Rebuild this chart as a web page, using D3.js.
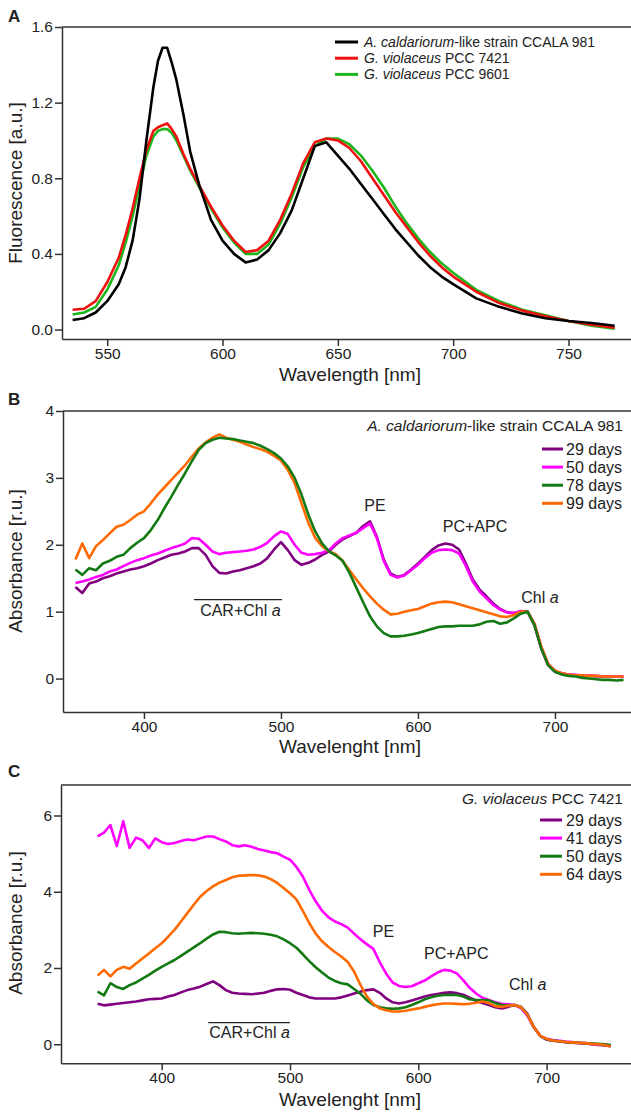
<!DOCTYPE html>
<html>
<head>
<meta charset="utf-8">
<script src="https://cdn.jsdelivr.net/npm/d3@7"></script>
<style>
  body { margin: 0; background: #fff; }
  text { font-family: "Liberation Sans", Arial, sans-serif; fill: #222; }
</style>
</head>
<body>
<div id="chart"></div>
<script>
// ---- panel A : fluorescence ----
var wlA = [535, 540, 545, 550, 555, 558, 561, 564, 567, 570, 572, 574, 576, 578, 580, 583, 586, 590, 595, 600,
  605, 610, 615, 620, 625, 630, 635, 640, 645, 650, 655, 660, 665, 670, 675, 680, 685, 690, 695, 700,
  710, 720, 730, 740, 750, 760, 770];
var fluCCALA = [0.05, 0.06, 0.09, 0.15, 0.24, 0.33, 0.47, 0.69, 1.00, 1.28, 1.42, 1.49, 1.49, 1.41, 1.32, 1.14, 0.94, 0.76, 0.58, 0.47,
  0.40, 0.355, 0.37, 0.42, 0.51, 0.63, 0.80, 0.97, 0.99, 0.92, 0.85, 0.77, 0.69, 0.61, 0.53, 0.46, 0.39, 0.33, 0.28, 0.24,
  0.165, 0.12, 0.085, 0.06, 0.045, 0.035, 0.02];
var flu7421 = [0.105, 0.11, 0.15, 0.25, 0.38, 0.50, 0.64, 0.80, 0.95, 1.05, 1.07, 1.08, 1.09, 1.06, 1.02, 0.93, 0.85, 0.76, 0.65, 0.55,
  0.47, 0.41, 0.42, 0.47, 0.58, 0.72, 0.88, 0.99, 1.01, 1.00, 0.96, 0.89, 0.80, 0.71, 0.62, 0.54, 0.46, 0.39, 0.33, 0.28,
  0.20, 0.14, 0.10, 0.07, 0.045, 0.025, 0.01];
var flu9601 = [0.08, 0.09, 0.12, 0.21, 0.34, 0.46, 0.60, 0.76, 0.92, 1.02, 1.05, 1.06, 1.06, 1.04, 1.00, 0.92, 0.84, 0.75, 0.64, 0.54,
  0.46, 0.40, 0.40, 0.45, 0.56, 0.70, 0.86, 0.97, 1.01, 1.01, 0.98, 0.92, 0.84, 0.75, 0.65, 0.56, 0.48, 0.41, 0.35, 0.30,
  0.21, 0.15, 0.105, 0.075, 0.045, 0.02, 0.005];
var legendA = [["A. caldariorum", "-like strain CCALA 981"], ["G. violaceus", " PCC 7421"], ["G. violaceus", " PCC 9601"]];

// ---- panels B and C : absorbance, sampled every 5 nm from 350 to 750 ----
var wlAbs = d3.range(350, 751, 5);
var absB29 = [1.37, 1.28, 1.42, 1.45, 1.50, 1.53, 1.57, 1.60, 1.63, 1.65, 1.68, 1.72, 1.77, 1.81, 1.85, 1.87, 1.90, 1.95, 1.95, 1.85,
  1.68, 1.58, 1.57, 1.60, 1.62, 1.65, 1.68, 1.72, 1.80, 1.93, 2.04, 1.92, 1.77, 1.70, 1.73, 1.78, 1.85, 1.90, 2.00, 2.08,
  2.13, 2.18, 2.28, 2.35, 2.12, 1.78, 1.57, 1.52, 1.55, 1.63, 1.72, 1.82, 1.92, 1.99, 2.02, 2.00, 1.93, 1.72, 1.48, 1.33,
  1.23, 1.12, 1.04, 0.99, 0.98, 1.00, 1.00, 0.80, 0.45, 0.20, 0.10, 0.07, 0.06, 0.05, 0.045, 0.04, 0.035, 0.03, 0.03, 0.03, 0.03];
var absB50 = [1.43, 1.45, 1.48, 1.52, 1.55, 1.60, 1.63, 1.68, 1.73, 1.77, 1.80, 1.84, 1.87, 1.91, 1.95, 1.98, 2.02, 2.10, 2.09, 2.00,
  1.90, 1.86, 1.88, 1.89, 1.90, 1.91, 1.93, 1.97, 2.03, 2.13, 2.20, 2.16, 2.00, 1.88, 1.85, 1.86, 1.88, 1.92, 2.02, 2.10,
  2.14, 2.18, 2.25, 2.32, 2.10, 1.76, 1.55, 1.51, 1.54, 1.62, 1.70, 1.80, 1.88, 1.92, 1.93, 1.92, 1.87, 1.68, 1.45, 1.30,
  1.20, 1.10, 1.03, 0.99, 0.98, 1.01, 1.00, 0.82, 0.47, 0.22, 0.11, 0.08, 0.06, 0.055, 0.05, 0.045, 0.04, 0.035, 0.035, 0.03, 0.03];
var absB78 = [1.63, 1.55, 1.65, 1.62, 1.72, 1.76, 1.82, 1.85, 1.95, 2.03, 2.10, 2.22, 2.37, 2.55, 2.72, 2.90, 3.07, 3.25, 3.42, 3.52,
  3.57, 3.60, 3.59, 3.58, 3.56, 3.54, 3.52, 3.48, 3.43, 3.37, 3.29, 3.17, 3.00, 2.75, 2.45, 2.20, 2.02, 1.90, 1.84, 1.76,
  1.58, 1.36, 1.14, 0.93, 0.78, 0.68, 0.63, 0.63, 0.64, 0.66, 0.68, 0.71, 0.74, 0.77, 0.78, 0.78, 0.79, 0.79, 0.79, 0.81,
  0.85, 0.86, 0.82, 0.84, 0.90, 0.97, 1.00, 0.80, 0.45, 0.20, 0.10, 0.06, 0.04, 0.03, 0.01, 0.00, -0.01, -0.02, -0.02, -0.03, -0.02];
var absB99 = [1.78, 2.02, 1.80, 1.98, 2.07, 2.17, 2.27, 2.30, 2.37, 2.45, 2.50, 2.62, 2.75, 2.86, 2.97, 3.08, 3.19, 3.32, 3.44, 3.53,
  3.60, 3.65, 3.60, 3.57, 3.54, 3.50, 3.46, 3.43, 3.39, 3.33, 3.26, 3.12, 2.92, 2.62, 2.33, 2.10, 1.98, 1.90, 1.86, 1.76,
  1.62, 1.48, 1.35, 1.23, 1.12, 1.03, 0.96, 0.97, 1.00, 1.02, 1.04, 1.08, 1.12, 1.14, 1.15, 1.14, 1.11, 1.08, 1.05, 1.02,
  0.99, 0.96, 0.93, 0.92, 0.95, 1.00, 1.00, 0.82, 0.48, 0.22, 0.12, 0.08, 0.06, 0.05, 0.05, 0.04, 0.04, 0.03, 0.03, 0.03, 0.03];

var absC29 = [1.06, 1.02, 1.04, 1.06, 1.08, 1.10, 1.12, 1.15, 1.18, 1.19, 1.20, 1.25, 1.29, 1.36, 1.42, 1.46, 1.51, 1.58, 1.65, 1.55,
  1.42, 1.35, 1.33, 1.32, 1.31, 1.33, 1.35, 1.40, 1.44, 1.45, 1.43, 1.35, 1.29, 1.23, 1.20, 1.20, 1.20, 1.20, 1.23, 1.28,
  1.33, 1.38, 1.42, 1.44, 1.35, 1.20, 1.10, 1.07, 1.10, 1.15, 1.20, 1.25, 1.29, 1.32, 1.35, 1.36, 1.34, 1.30, 1.22, 1.14,
  1.08, 1.03, 0.97, 0.94, 0.98, 1.03, 0.98, 0.80, 0.45, 0.22, 0.12, 0.09, 0.07, 0.05, 0.04, 0.03, 0.02, 0.00, -0.01, -0.03, -0.05];
var absC41 = [5.45, 5.55, 5.75, 5.20, 5.85, 5.15, 5.42, 5.35, 5.15, 5.40, 5.30, 5.25, 5.28, 5.33, 5.37, 5.35, 5.40, 5.45, 5.45, 5.38,
  5.32, 5.22, 5.19, 5.22, 5.18, 5.12, 5.08, 5.04, 5.01, 4.92, 4.84, 4.65, 4.40, 4.05, 3.75, 3.50, 3.33, 3.22, 3.15, 3.06,
  2.90, 2.75, 2.62, 2.50, 2.15, 1.85, 1.62, 1.53, 1.50, 1.52, 1.60, 1.67, 1.78, 1.88, 1.95, 1.93, 1.86, 1.68, 1.48, 1.33,
  1.22, 1.16, 1.10, 1.06, 1.05, 1.03, 0.95, 0.75, 0.45, 0.22, 0.14, 0.11, 0.09, 0.07, 0.06, 0.04, 0.03, 0.01, -0.02, 0.00, -0.04];
var absC50 = [1.38, 1.28, 1.60, 1.50, 1.45, 1.55, 1.62, 1.72, 1.82, 1.93, 2.03, 2.12, 2.21, 2.32, 2.43, 2.54, 2.65, 2.77, 2.88, 2.95,
  2.94, 2.91, 2.90, 2.91, 2.92, 2.91, 2.90, 2.87, 2.83, 2.75, 2.65, 2.53, 2.36, 2.18, 2.02, 1.88, 1.75, 1.66, 1.60, 1.57,
  1.45, 1.32, 1.15, 1.03, 0.97, 0.94, 0.93, 0.94, 0.97, 1.03, 1.10, 1.18, 1.23, 1.27, 1.29, 1.30, 1.29, 1.25, 1.18, 1.16,
  1.16, 1.15, 1.08, 1.03, 1.02, 1.03, 0.98, 0.78, 0.45, 0.22, 0.13, 0.10, 0.08, 0.06, 0.05, 0.04, 0.03, 0.02, 0.01, 0.00, -0.02];
var absC64 = [1.80, 1.95, 1.78, 1.95, 2.03, 1.98, 2.12, 2.25, 2.38, 2.52, 2.65, 2.82, 3.00, 3.22, 3.44, 3.66, 3.87, 4.02, 4.14, 4.24,
  4.31, 4.38, 4.42, 4.43, 4.44, 4.43, 4.40, 4.33, 4.23, 4.10, 3.96, 3.80, 3.50, 3.18, 2.90, 2.70, 2.55, 2.42, 2.30, 2.16,
  1.90, 1.55, 1.25, 1.05, 0.94, 0.89, 0.86, 0.86, 0.88, 0.91, 0.94, 0.98, 1.02, 1.05, 1.07, 1.07, 1.06, 1.05, 1.06, 1.09,
  1.12, 1.08, 1.00, 0.98, 1.01, 1.03, 0.97, 0.78, 0.45, 0.22, 0.14, 0.10, 0.08, 0.06, 0.05, 0.04, 0.03, 0.01, 0.00, -0.02, -0.06];

var daysB = ["29 days", "50 days", "78 days", "99 days"];
var daysC = ["29 days", "41 days", "50 days", "64 days"];
var bandLabels = ["PE", "PC+APC", "Chl ", "CAR+Chl "];

var purple = "#800080", magenta = "#ff00ff", dkgreen = "#137a13", orange = "#ff6a00";

var W = 631;
var svg = d3.select("#chart").append("svg")
  .attr("width", W)
  .attr("height", 1113);

function drawPanel(p) {
  var x = d3.scaleLinear().domain(p.xDomain).range([p.left, W]);
  var y = d3.scaleLinear().domain(p.yDomain).range([p.bottom, p.top]);
  var g = svg.append("g");

  // top frame line
  g.append("line")
    .attr("x1", p.left).attr("x2", W)
    .attr("y1", p.top).attr("y2", p.top)
    .attr("stroke", "#333").attr("stroke-width", 1.5);

  var xa = g.append("g")
    .attr("transform", "translate(0," + p.bottom + ")")
    .call(d3.axisBottom(x).tickValues(p.xTicks).tickSize(7).tickPadding(2).tickSizeOuter(0));
  var ya = g.append("g")
    .attr("transform", "translate(" + p.left + ",0)")
    .call(d3.axisLeft(y).tickValues(p.yTicks).tickFormat(p.yFormat).tickSize(7).tickPadding(2).tickSizeOuter(0));
  [xa, ya].forEach(function(a) {
    a.selectAll(".domain, .tick line").attr("stroke", "#333").attr("stroke-width", 1.5);
    a.selectAll("text").style("font-size", "15.5px").style("font-family", "Liberation Sans, Arial, sans-serif").attr("fill", "#222");
  });

  var line = d3.line()
    .x(function(d, i) { return x(p.wl[i]); })
    .y(function(d) { return y(d); });
  p.series.forEach(function(s) {
    g.append("path")
      .datum(s.values)
      .attr("d", line)
      .attr("fill", "none")
      .attr("stroke", s.color)
      .attr("stroke-width", 2.6)
      .attr("stroke-linejoin", "round");
  });

  // axis titles
  g.append("text")
    .attr("x", 350).attr("y", p.xTitleY)
    .attr("text-anchor", "middle")
    .style("font-size", "19px")
    .text(p.xTitle);
  g.append("text")
    .attr("transform", "translate(22," + p.yTitleY + ") rotate(-90)")
    .attr("text-anchor", "middle")
    .style("font-size", "19px")
    .text(p.yTitle);
  // panel letter
  g.append("text")
    .attr("x", 8).attr("y", p.letterY)
    .style("font-size", "17px").style("font-weight", "bold")
    .text(p.letter);
  return { x: x, y: y, g: g };
}

function italicLabel(sel, italicPart, rest, italicFirst) {
  if (italicFirst) {
    sel.append("tspan").style("font-style", "italic").text(italicPart);
    sel.append("tspan").text(rest);
  } else {
    sel.append("tspan").text(rest);
    sel.append("tspan").style("font-style", "italic").text(italicPart);
  }
}

// ---------- A ----------
var pA = drawPanel({
  left: 62, top: 27, bottom: 339,
  xDomain: [530.4, 777.1], yDomain: [-0.05, 1.6],
  xTicks: [550, 600, 650, 700, 750], yTicks: [0, 0.4, 0.8, 1.2, 1.6], yFormat: d3.format(".1f"),
  wl: wlA,
  series: [
    { values: flu9601, color: "#1cb51c" },
    { values: flu7421, color: "#f01010" },
    { values: fluCCALA, color: "#000" }
  ],
  xTitle: "Wavelength [nm]", xTitleY: 381,
  yTitle: "Fluorescence [a.u.]", yTitleY: 183,
  letter: "A", letterY: 22
});
var colA = ["#000", "#f01010", "#1cb51c"];
legendA.forEach(function(l, i) {
  var yy = 42 + i * 16.2;
  pA.g.append("line").attr("x1", 335).attr("x2", 358).attr("y1", yy).attr("y2", yy)
    .attr("stroke", colA[i]).attr("stroke-width", 3);
  var t = pA.g.append("text").attr("x", 364).attr("y", yy + 5).style("font-size", "14px");
  italicLabel(t, l[0], l[1], true);
});

// ---------- B ----------
var pB = drawPanel({
  left: 63, top: 411, bottom: 712,
  xDomain: [340.9, 755.5], yDomain: [-0.5, 4],
  xTicks: [400, 500, 600, 700], yTicks: [0, 1, 2, 3, 4], yFormat: d3.format("d"),
  wl: wlAbs,
  series: [
    { values: absB29, color: purple },
    { values: absB50, color: magenta },
    { values: absB99, color: orange },
    { values: absB78, color: dkgreen }
  ],
  xTitle: "Wavelenght [nm]", xTitleY: 753,
  yTitle: "Absorbance [r.u.]", yTitleY: 561,
  letter: "B", letterY: 405
});
var tB = pB.g.append("text").attr("x", 623).attr("y", 431).attr("text-anchor", "end").style("font-size", "15.5px");
italicLabel(tB, "A. caldariorum", "-like strain CCALA 981", true);
var colB = [purple, magenta, dkgreen, orange];
daysB.forEach(function(d, i) {
  var yy = 449 + i * 18.1;
  pB.g.append("line").attr("x1", 542).attr("x2", 563).attr("y1", yy).attr("y2", yy)
    .attr("stroke", colB[i]).attr("stroke-width", 3);
  pB.g.append("text").attr("x", 566).attr("y", yy + 5.6).style("font-size", "16px").text(d);
});
pB.g.append("text").attr("x", pB.x(568.6)).attr("y", pB.y(2.5)).attr("text-anchor", "middle").style("font-size", "16px").text(bandLabels[0]);
pB.g.append("text").attr("x", pB.x(641.6)).attr("y", pB.y(2.19)).attr("text-anchor", "middle").style("font-size", "16px").text(bandLabels[1]);
italicLabel(pB.g.append("text").attr("x", pB.x(689)).attr("y", pB.y(1.13)).attr("text-anchor", "middle").style("font-size", "16px"), "a", bandLabels[2], false);
pB.g.append("line").attr("x1", pB.x(436.5)).attr("x2", pB.x(500.7)).attr("y1", pB.y(1.18)).attr("y2", pB.y(1.18))
  .attr("stroke", "#222").attr("stroke-width", 1.2);
italicLabel(pB.g.append("text").attr("x", pB.x(441)).attr("y", pB.y(0.93)).style("font-size", "16px"), "a", bandLabels[3], false);

// ---------- C ----------
var pC = drawPanel({
  left: 61, top: 785, bottom: 1063.3,
  xDomain: [321.5, 765.8], yDomain: [-0.5, 6.8],
  xTicks: [400, 500, 600, 700], yTicks: [0, 2, 4, 6], yFormat: d3.format("d"),
  wl: wlAbs,
  series: [
    { values: absC29, color: purple },
    { values: absC41, color: magenta },
    { values: absC50, color: dkgreen },
    { values: absC64, color: orange }
  ],
  xTitle: "Wavelenght [nm]", xTitleY: 1106,
  yTitle: "Absorbance [r.u.]", yTitleY: 923,
  letter: "C", letterY: 777
});
var tC = pC.g.append("text").attr("x", 623).attr("y", 804).attr("text-anchor", "end").style("font-size", "15.5px");
italicLabel(tC, "G. violaceus", " PCC 7421", true);
var colC = [purple, magenta, dkgreen, orange];
daysC.forEach(function(d, i) {
  var yy = 820 + i * 18.1;
  pC.g.append("line").attr("x1", 540).attr("x2", 562).attr("y1", yy).attr("y2", yy)
    .attr("stroke", colC[i]).attr("stroke-width", 3);
  pC.g.append("text").attr("x", 566).attr("y", yy + 5.6).style("font-size", "16px").text(d);
});
pC.g.append("text").attr("x", pC.x(572.9)).attr("y", pC.y(2.81)).attr("text-anchor", "middle").style("font-size", "16px").text(bandLabels[0]);
pC.g.append("text").attr("x", pC.x(629.6)).attr("y", pC.y(2.23)).attr("text-anchor", "middle").style("font-size", "16px").text(bandLabels[1]);
italicLabel(pC.g.append("text").attr("x", pC.x(685.3)).attr("y", pC.y(1.41)).attr("text-anchor", "middle").style("font-size", "16px"), "a", bandLabels[2], false);
pC.g.append("line").attr("x1", pC.x(436.3)).attr("x2", pC.x(500)).attr("y1", pC.y(0.567)).attr("y2", pC.y(0.567))
  .attr("stroke", "#222").attr("stroke-width", 1.2);
italicLabel(pC.g.append("text").attr("x", pC.x(437.1)).attr("y", pC.y(0.157)).style("font-size", "16px"), "a", bandLabels[3], false);
</script>
</body>
</html>
